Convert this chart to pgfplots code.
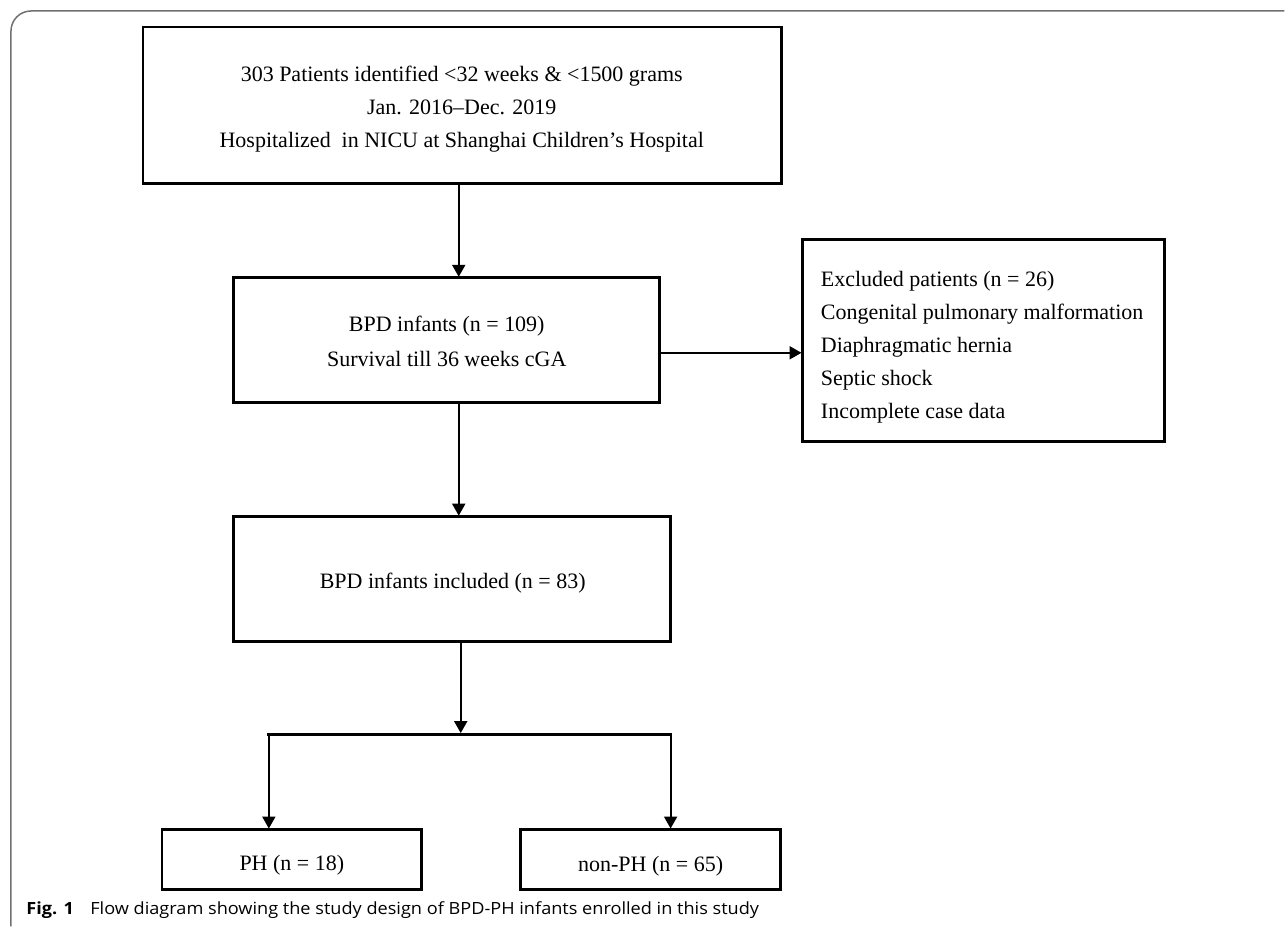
\documentclass[border=0pt]{standalone}
\usepackage{pgfplots}
\pgfplotsset{compat=1.18}
\usepackage{fontspec}
\setmainfont{Liberation Serif}
\newfontfamily\capfont[FakeStretch=1.08]{Open Sans}
\usetikzlibrary{arrows.meta}
\definecolor{framegray}{HTML}{707070}

\tikzset{
  box/.style={black, line width=1.4pt, line cap=rect, line join=miter},
  arr/.style={black, line width=1pt, -{Triangle[length=6pt,width=6.5pt]}},
  lbl/.style={anchor=base, inner sep=0pt, font=\fontsize{11pt}{13pt}\selectfont},
}

\begin{document}
\begin{tikzpicture}
\begin{axis}[
  scale only axis, width=642.5pt, height=463.5pt,
  xmin=0, xmax=1285, ymin=0, ymax=927, y dir=reverse,
  hide axis, clip=false,
  every axis plot/.append style={mark=none},
]
\path (axis cs:0,0) rectangle (axis cs:1285,927);

% outer frame
\addplot[color=framegray, line width=0.75pt, rounded corners=10pt] coordinates {(11,927) (11,11) (1285,11)};

% boxes
\addplot[box] coordinates {(143,27) (782,27) (782,184) (143,184) (143,27)};
\addplot[box] coordinates {(234,278) (660,278) (660,403) (234,403) (234,278)};
\addplot[box] coordinates {(803,240) (1165,240) (1165,442) (803,442) (803,240)};
\addplot[box] coordinates {(234,517) (671,517) (671,642) (234,642) (234,517)};
\addplot[box] coordinates {(162,830) (422,830) (422,890) (162,890) (162,830)};
\addplot[box] coordinates {(521,830) (781,830) (781,890) (521,890) (521,830)};

% connectors
\addplot[arr] coordinates {(459,184) (459,277)};
\addplot[arr] coordinates {(660,353) (802,353)};
\addplot[arr] coordinates {(459,403) (459,516)};
\addplot[arr] coordinates {(461,642) (461,733.5)};
\addplot[box] coordinates {(269,735) (671,735)};
\addplot[arr] coordinates {(269,735) (269,829)};
\addplot[arr] coordinates {(671,735) (671,829)};

% texts
\node[lbl] at (axis cs:462,82) {303 Patients identified <32 weeks \& <1500 grams};
\node[lbl] at (axis cs:462,115) {Jan. 2016–Dec. 2019};
\node[lbl] at (axis cs:462,148) {Hospitalized\ \ in NICU at Shanghai Children’s Hospital};
\node[lbl] at (axis cs:447,332) {BPD infants (n = 109)};
\node[lbl] at (axis cs:447,367) {Survival till 36 weeks cGA};
\node[lbl, anchor=base west] at (axis cs:821,287) {Excluded patients (n = 26)};
\node[lbl, anchor=base west] at (axis cs:821,320) {Congenital pulmonary malformation};
\node[lbl, anchor=base west] at (axis cs:821,353) {Diaphragmatic hernia};
\node[lbl, anchor=base west] at (axis cs:821,386) {Septic shock};
\node[lbl, anchor=base west] at (axis cs:821,419) {Incomplete case data};
\node[lbl] at (axis cs:453,589) {BPD infants included (n = 83)};
\node[lbl] at (axis cs:292,871) {PH (n = 18)};
\node[lbl] at (axis cs:651,872) {non-PH (n = 65)};

% caption
\node[anchor=base west, inner sep=0pt, font=\capfont\fontsize{8.4pt}{10pt}\selectfont\bfseries] at (axis cs:26,915) {Fig. 1};
\node[anchor=base west, inner sep=0pt, font=\capfont\fontsize{8.4pt}{10pt}\selectfont] at (axis cs:90,915) {Flow diagram showing the study design of BPD-PH infants enrolled in this study};
\end{axis}
\end{tikzpicture}
\end{document}
